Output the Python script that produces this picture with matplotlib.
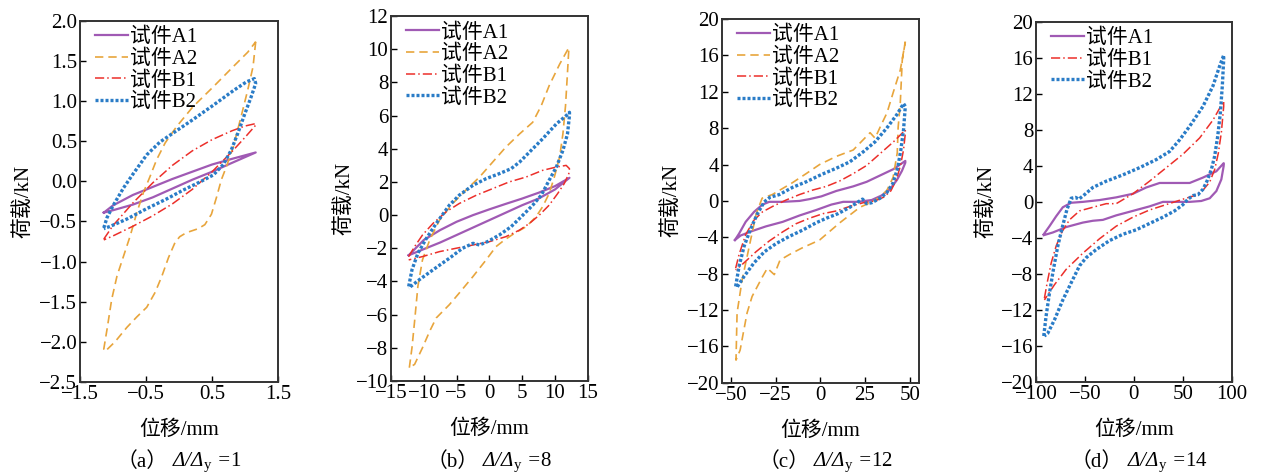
import matplotlib
matplotlib.use('Agg')
import matplotlib.pyplot as plt

# 字体: 西文用衬线体, 中文回落到 Noto Sans CJK
plt.rcParams['font.family'] = ['Liberation Serif', 'Noto Sans CJK SC']
plt.rcParams['axes.unicode_minus'] = True
plt.rcParams['mathtext.fontset'] = 'custom'
plt.rcParams['mathtext.rm'] = 'Liberation Serif'
plt.rcParams['mathtext.it'] = 'Liberation Serif:italic'
plt.rcParams['font.size'] = 15

# ---------------- (a) Δ/Δy=1 ----------------
a_A1_x = [-1.14, -1.0, -0.7, -0.4, -0.1, 0.2, 0.5, 0.8, 1.16, 0.8, 0.5, 0.2, -0.1, -0.4, -0.7, -1.0, -1.14]
a_A1_y = [-0.39, -0.30, -0.17, -0.07, 0.03, 0.12, 0.21, 0.28, 0.36, 0.23, 0.12, 0.02, -0.09, -0.20, -0.29, -0.36, -0.39]
a_A2_x = [1.16, 1.12, 1.04, 0.94, 0.82, 0.72, 0.64, 0.57, 0.49, 0.39, 0.29, 0.11, 0.01, -0.06, -0.16, -0.26, -0.36,
          -0.49, -0.64, -0.79, -0.97, -1.12, -1.14, -1.09, -1.02, -0.94, -0.84, -0.74, -0.64, -0.54, -0.44, -0.34,
          -0.21, -0.04, 0.21, 0.52, 0.82, 1.04, 1.16]
a_A2_y = [1.74, 1.43, 1.14, 0.81, 0.43, 0.19, 0.02, -0.19, -0.41, -0.54, -0.59, -0.64, -0.69, -0.76, -0.95, -1.18, -1.38,
          -1.57, -1.69, -1.82, -2.0, -2.12, -2.09, -1.84, -1.47, -1.18, -0.93, -0.68, -0.39, -0.14, 0.06, 0.27,
          0.48, 0.68, 0.93, 1.18, 1.43, 1.61, 1.74]
a_B1_x = [-1.14, -1.0, -0.7, -0.4, -0.1, 0.2, 0.5, 0.8, 1.0, 1.16, 1.16, 1.0, 0.8, 0.5, 0.2, -0.1, -0.4, -0.7, -1.0, -1.14]
a_B1_y = [-0.72, -0.55, -0.27, -0.02, 0.20, 0.38, 0.52, 0.63, 0.69, 0.72, 0.70, 0.55, 0.37, 0.12, -0.10, -0.28, -0.43, -0.56, -0.68, -0.73]
a_B2_x = [-1.14, -1.09, -0.99, -0.84, -0.69, -0.49, -0.29, -0.04, 0.21, 0.52, 0.82, 1.02, 1.14,
          1.16, 1.09, 0.99, 0.89, 0.79, 0.67, 0.52, 0.31, 0.06, -0.19, -0.49, -0.79, -1.04, -1.14]
a_B2_y = [-0.58, -0.45, -0.29, -0.08, 0.10, 0.33, 0.49, 0.63, 0.77, 0.95, 1.13, 1.24, 1.28,
          1.22, 1.05, 0.83, 0.60, 0.39, 0.21, 0.08, -0.01, -0.11, -0.22, -0.34, -0.47, -0.56, -0.59]

# ---------------- (b) Δ/Δy=8 ----------------
b_A1_x = [-12.3, -10, -7.5, -5, -2.5, 0, 2.5, 5, 7.5, 10, 12.2, 10, 7.5, 5, 2.5, 0, -2.5, -5, -7.5, -10, -12.3]
b_A1_y = [-2.42, -1.5, -0.9, -0.4, 0.0, 0.35, 0.68, 1.0, 1.35, 1.75, 2.25, 1.55, 1.0, 0.6, 0.15, -0.3, -0.75, -1.2, -1.65, -2.05, -2.42]
b_A2_x = [-12.2, -11.8, -11.4, -10.9, -10.2, -9.1, -7.6, -5.6, -3.6, -1.5, 0.5, 2.5, 4.6, 6.6, 7.9, 9.1, 10.7, 12.1,
          12.1, 11.9, 11.6, 11.2, 10.7, 9.9, 9.1, 8.1, 7.1, 5.6, 3.8, 2.3, 1.0, -0.5, -2.5, -4.6, -6.1, -8.1, -9.1,
          -10.2, -11.4, -12.2]
b_A2_y = [-9.2, -8.0, -6.4, -4.3, -2.7, -1.5, -0.3, 0.7, 1.5, 2.3, 3.2, 4.1, 4.9, 5.6, 6.6, 7.8, 9.1, 10.1,
          10.0, 8.6, 6.6, 4.9, 3.5, 2.3, 1.3, 0.5, -0.1, -0.7, -1.1, -1.5, -1.9, -2.7, -3.7, -4.7, -5.4, -6.2, -7.0,
          -8.0, -9.0, -9.2]
b_B1_x = [-12.3, -11.4, -10.2, -8.6, -6.6, -4.6, -2.0, 0.5, 3.0, 5.6, 8.1, 10.2, 11.7, 12.2,
          12.1, 11.4, 10.4, 9.1, 7.6, 6.1, 4.6, 2.5, 0.0, -2.5, -5.1, -7.6, -10.2, -12.3]
b_B1_y = [-2.5, -1.9, -1.2, -0.5, 0.2, 0.7, 1.2, 1.6, 2.0, 2.3, 2.7, 2.9, 3.0, 2.8,
          2.5, 1.9, 1.3, 0.6, 0.0, -0.5, -0.9, -1.3, -1.6, -1.8, -2.0, -2.2, -2.5, -2.7]
b_B2_x = [-12.3, -11.8, -10.9, -9.6, -8.1, -6.1, -4.6, -2.5, -0.5, 1.5, 3.3, 4.6, 6.1, 8.1, 10.2, 11.7, 12.2,
          12.2, 11.9, 11.2, 10.2, 9.1, 7.9, 6.6, 5.1, 3.3, 1.5, -0.3, -1.5, -2.5, -4.1, -6.1, -8.6, -10.7, -12.3]
b_B2_y = [-4.3, -3.3, -2.3, -1.4, -0.5, 0.6, 1.2, 1.8, 2.2, 2.5, 2.8, 3.2, 3.8, 4.6, 5.5, 6.0, 6.2,
          6.0, 4.9, 3.9, 2.9, 2.1, 1.2, 0.6, 0.0, -0.7, -1.2, -1.6, -1.8, -1.7, -2.0, -2.6, -3.3, -3.9, -4.4]

# ---------------- (c) Δ/Δy=12 ----------------
c_A1_x = [-47.7, -45.4, -41.7, -37.0, -32.3, -28.5, -21.0, -11.6, -6.0, 0.6, 9.0, 18.4, 25.9, 33.4, 40.9, 47.5,
          47.5, 45.6, 42.8, 39.0, 34.3, 28.7, 21.2, 12.8, 6.2, -2.3, -11.6, -21.0, -30.4, -37.9, -44.5, -47.7]
c_A1_y = [-4.3, -3.6, -2.3, -1.2, -0.4, -0.1, -0.1, 0.0, 0.2, 0.5, 1.1, 1.6, 2.1, 2.8, 3.5, 4.4,
          4.2, 3.3, 2.3, 1.3, 0.6, 0.1, -0.1, -0.1, -0.4, -1.0, -1.6, -2.3, -2.8, -3.3, -3.8, -4.3]
c_A2_x = [47.5, 45.8, 44.7, 43.5, 43.0, 40.7, 37.3, 33.4, 27.8, 22.1, 10.9, -0.4, -10.5, -17.3, -22.5, -25.7, -29.6,
          -32.5, -38.1, -40.9, -43.2, -44.8, -47.1, -46.5, -43.7, -39.8, -35.8, -32.5, -26.8, -15.6, -7.9, -0.4,
          9.0, 18.4, 27.8, 30.6, 33.4, 37.3, 40.7, 44.7, 47.5]
c_A2_y = [17.5, 15.5, 10.8, 8.1, 5.3, 2.6, 1.2, 0.4, -0.2, -0.7, -2.4, -4.3, -5.2, -5.9, -6.5, -8.1, -7.4,
          -8.4, -10.5, -12.3, -14.7, -16.4, -17.5, -12.3, -8.7, -5.1, -1.4, 0.3, 0.7, 2.0, 3.0, 4.0,
          4.9, 5.6, 7.5, 6.9, 8.1, 9.7, 11.9, 14.4, 17.5]
c_B1_x = [-47.3, -45.4, -41.7, -37.0, -32.3, -26.6, -19.1, -11.6, -4.1, 3.4, 10.9, 18.4, 25.9, 33.4, 40.9, 47.5,
          47.5, 46.5, 44.7, 42.4, 39.4, 35.3, 30.6, 24.0, 16.5, 9.0, 1.5, -6.0, -13.5, -21.0, -28.5, -36.0, -42.6, -47.3]
c_B1_y = [-7.4, -5.9, -3.7, -2.1, -1.2, -0.6, 0.1, 0.7, 1.2, 1.6, 2.2, 3.0, 3.9, 5.2, 6.5, 7.8,
          7.4, 5.6, 3.8, 2.3, 1.1, 0.4, 0.0, -0.2, -0.6, -1.1, -1.4, -1.9, -2.5, -3.4, -4.4, -5.6, -6.8, -7.6]
c_B2_x = [-47.3, -45.4, -42.6, -38.8, -35.1, -31.3, -28.1, -22.9, -15.4, -7.9, 0.6, 9.0, 16.5, 24.0, 30.6, 37.1, 42.8, 46.5,
          47.5, 46.5, 45.0, 43.2, 40.5, 37.1, 33.4, 28.7, 25.9, 23.6, 21.2, 16.5, 9.9, 3.4, -2.3, -9.8, -17.3, -24.8,
          -31.3, -37.0, -42.6, -46.9]
c_B2_y = [-9.4, -7.2, -5.0, -3.0, -1.4, -0.1, 0.4, 0.7, 1.5, 2.1, 2.9, 3.6, 4.3, 5.4, 6.5, 8.0, 9.5, 10.7,
          10.4, 7.8, 5.6, 3.6, 1.9, 0.9, 0.3, -0.2, -0.3, 0.2, -0.1, -0.7, -1.4, -1.9, -2.4, -3.2, -3.9, -4.7,
          -5.6, -6.8, -8.3, -9.6]

# ---------------- (d) Δ/Δy=14 ----------------
d_A1_x = [-92.2, -86.3, -79.5, -72.7, -64.2, -52.2, -35.2, -18.1, -1.0, 12.6, 26.3, 43.3, 57.0, 70.6, 84.3, 91.8,
          91.8, 89.4, 84.3, 77.5, 68.9, 57.0, 43.3, 29.7, 16.0, -1.0, -18.1, -31.7, -42.0, -52.2, -69.3, -82.9, -92.2]
d_A1_y = [-3.6, -2.7, -1.6, -0.6, -0.1, 0.0, 0.2, 0.5, 0.9, 1.6, 2.1, 2.1, 2.1, 2.7, 3.4, 4.3,
          4.0, 2.5, 1.2, 0.4, 0.1, 0.0, 0.0, 0.0, -0.5, -1.0, -1.5, -2.0, -2.1, -2.3, -2.8, -3.4, -3.7]
d_B1_x = [-91.5, -88.7, -84.6, -79.5, -73.4, -65.9, -55.6, -42.0, -28.3, -18.1, -1.0, 16.0, 33.1, 50.2, 67.2, 80.9, 91.8,
          91.8, 89.4, 86.3, 82.6, 77.5, 70.6, 62.1, 50.2, 33.1, 16.0, -1.0, -18.1, -35.2, -52.2, -69.3, -81.2, -91.5]
d_B1_y = [-10.7, -9.0, -6.8, -4.9, -3.3, -2.0, -1.0, -0.6, -0.2, -0.2, 0.9, 2.3, 3.8, 5.3, 7.1, 9.1, 11.2,
          10.6, 7.7, 5.4, 3.6, 2.2, 1.3, 0.7, 0.3, -0.3, -0.9, -1.7, -2.7, -4.1, -5.7, -7.5, -9.2, -10.9]
d_B2_x = [-92.2, -89.8, -86.3, -82.3, -77.8, -73.4, -68.6, -64.2, -59.7, -56.3, -50.5, -42.0, -28.3, -11.3, 5.8, 22.9,
          36.5, 46.8, 57.0, 70.6, 80.9, 87.7, 91.8,
          91.8, 90.4, 88.4, 85.7, 82.6, 79.2, 74.7, 70.6, 65.5, 60.4, 55.3, 50.2, 41.6, 29.7, 16.0, 2.4, -11.3,
          -24.9, -38.6, -48.8, -55.6, -64.2, -72.7, -81.2, -88.1, -91.5]
d_B2_y = [-14.9, -12.7, -10.1, -7.5, -4.9, -2.9, -0.9, 0.4, 0.5, 0.3, 0.8, 1.6, 2.3, 3.0, 3.8, 4.7,
          5.6, 6.9, 8.4, 10.6, 12.9, 15.1, 16.3,
          15.8, 12.9, 9.9, 7.3, 5.1, 3.6, 2.3, 1.4, 0.8, 0.7, 0.3, -0.3, -1.0, -1.7, -2.4, -3.1, -3.6,
          -4.3, -5.3, -6.2, -7.1, -9.0, -10.9, -13.1, -14.6, -14.9]

# 曲线样式
styles = {
    '试件A1': dict(color='#a05ab4', linestyle='-', linewidth=1.6),
    '试件A2': dict(color='#e8a53c', linestyle=(0, (5, 3)), linewidth=1.2),
    '试件B1': dict(color='#ec2f2a', linestyle=(0, (6, 2, 1, 2)), linewidth=1.1),
    '试件B2': dict(color='#2a7cc7', linestyle=(0, (0.9, 0.6)), linewidth=2.4),
}

panels = [
    dict(data=[('试件A1', a_A1_x, a_A1_y), ('试件A2', a_A2_x, a_A2_y), ('试件B1', a_B1_x, a_B1_y), ('试件B2', a_B2_x, a_B2_y)],
         xlim=(-1.5, 1.5), xticks=[-1.5, -0.5, 0.5, 1.5], ylim=(-2.5, 2.0),
         yticks=[-2.5, -2.0, -1.5, -1.0, -0.5, 0.0, 0.5, 1.0, 1.5, 2.0], fmt='{:.1f}',
         pos=[0.0634, 0.196, 0.157, 0.760], tag='a', ratio='1', ylab=-47),
    dict(data=[('试件A1', b_A1_x, b_A1_y), ('试件A2', b_A2_x, b_A2_y), ('试件B1', b_B1_x, b_B1_y), ('试件B2', b_B2_x, b_B2_y)],
         xlim=(-15, 15), xticks=[-15, -10, -5, 0, 5, 10, 15], ylim=(-10, 12),
         yticks=list(range(-10, 13, 2)), fmt='{:d}',
         pos=[0.3098, 0.198, 0.156, 0.768], tag='b', ratio='8', ylab=-37),
    dict(data=[('试件A1', c_A1_x, c_A1_y), ('试件A2', c_A2_x, c_A2_y), ('试件B1', c_B1_x, c_B1_y), ('试件B2', c_B2_x, c_B2_y)],
         xlim=(-55, 55), xticks=[-50, -25, 0, 25, 50], ylim=(-20, 20),
         yticks=list(range(-20, 21, 4)), fmt='{:d}',
         pos=[0.572, 0.194, 0.156, 0.766], tag='c', ratio='12', ylab=-41),
    dict(data=[('试件A1', d_A1_x, d_A1_y), ('试件B1', d_B1_x, d_B1_y), ('试件B2', d_B2_x, d_B2_y)],
         xlim=(-100, 100), xticks=[-100, -50, 0, 50, 100], ylim=(-20, 20),
         yticks=list(range(-20, 21, 4)), fmt='{:d}',
         pos=[0.821, 0.196, 0.155, 0.758], tag='d', ratio='14', ylab=-40),
]

fig = plt.figure(figsize=(12.62, 4.75), dpi=100)

for p in panels:
    ax = fig.add_axes(p['pos'])
    for name, xs, ys in p['data']:
        ax.plot(xs, ys, label=name, **styles[name])
    ax.set_xlim(p['xlim'])
    ax.set_ylim(p['ylim'])
    ax.set_xticks(p['xticks'])
    ax.set_xticklabels([p['fmt'].format(v).replace('-', '\u2212') for v in p['xticks']])
    ax.set_yticks(p['yticks'])
    ax.set_yticklabels([p['fmt'].format(v).replace('-', '\u2212') for v in p['yticks']])
    ax.tick_params(direction='in', length=4, width=1, labelsize=15, pad=2)
    for s in ax.spines.values():
        s.set_linewidth(1.4)
        s.set_color('#333333')
    x0, y0, w, h = p['pos']
    ax.set_xlabel('位移/mm', fontsize=15, labelpad=12)
    ax.set_ylabel('荷载/kN', fontsize=15)
    ax.yaxis.set_label_coords(p['ylab'] / (w * 1262), 0.5)
    ax.legend(loc='upper left', bbox_to_anchor=(0.06, 0.99), frameon=False, fontsize=15,
              handlelength=1.6, handletextpad=0.1, labelspacing=0.1, borderpad=0.15, borderaxespad=0)
    # 图注: 括号用中文字体, Δ 用斜体 (公式外文字取文本本身的字体)
    split = x0 + w / 2 - 11 / 1262
    fig.text(split, 0.027, '（' + p['tag'] + '）', ha='right', va='center', fontsize=15)
    fig.text(split + 4 / 1262, 0.027, 'Δ/Δ${}_\\mathrm{y}$ =$\\mathrm{' + p['ratio'] + '}$',
             ha='left', va='center', fontsize=15, family='Liberation Serif', style='italic')

fig.savefig('out.png', dpi=100)
